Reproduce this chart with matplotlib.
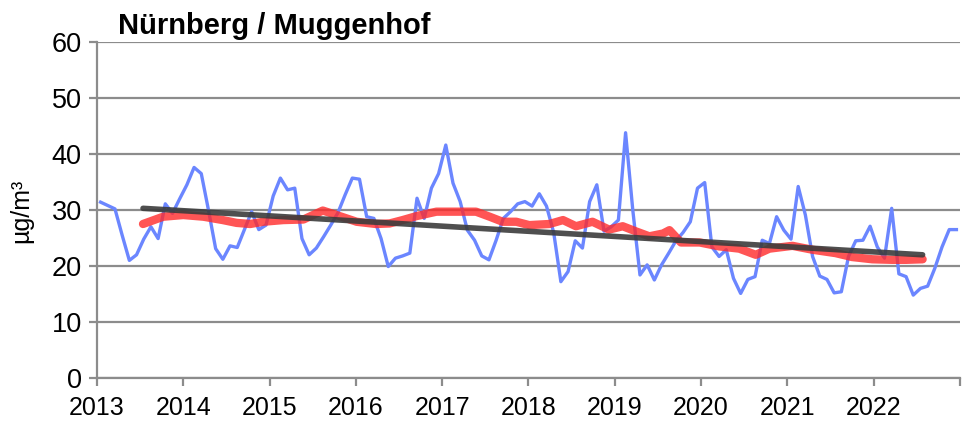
import matplotlib
matplotlib.use("Agg")
import matplotlib.pyplot as plt
import numpy as np

plt.rcParams['font.family'] = ['Liberation Sans', 'DejaVu Sans']

# monthly means Jan 2013 .. Dec 2022 (µg/m³)
monthly = [31.4, 30.8, 30.2, 25.5, 21.0, 22.0, 24.8, 27.0, 24.9, 31.1, 29.4, 32.0,
           34.5, 37.6, 36.5, 30.0, 23.1, 21.2, 23.6, 23.3, 26.5, 29.7, 26.5, 27.3,
           32.5, 35.7, 33.6, 33.9, 24.9, 22.0, 23.2, 25.2, 27.3, 29.5, 32.7, 35.7,
           35.5, 28.8, 28.5, 24.9, 19.9, 21.4, 21.8, 22.3, 32.1, 28.5, 33.9, 36.5,
           41.6, 34.8, 31.5, 26.4, 24.6, 21.8, 21.1, 24.6, 28.5, 29.7, 31.1, 31.5,
           30.7, 32.9, 30.7, 26.0, 17.2, 19.0, 24.5, 23.2, 31.5, 34.5, 26.2, 27.0,
           28.2, 43.8, 30.0, 18.4, 20.2, 17.5, 20.2, 22.3, 24.5, 26.0, 27.9, 33.9,
           34.9, 23.4, 21.7, 22.9, 17.8, 15.1, 17.6, 18.1, 24.6, 24.0, 28.8, 26.4,
           24.8, 34.2, 29.1, 21.7, 18.2, 17.6, 15.2, 15.4, 21.7, 24.5, 24.6, 27.1,
           23.4, 21.4, 30.3, 18.6, 18.1, 14.8, 16.0, 16.4, 19.6, 23.4, 26.5, 26.5]

# running mean (month index, value)
mean_month = [5.9, 8.7, 11.5, 14.3, 17.0, 18.9, 20.8, 22.6, 25.4, 28.2, 30.9, 32.8,
              35.6, 38.3, 40.2, 42.0, 43.9, 46.7, 49.5, 52.2, 54.1, 55.9, 57.8, 59.6,
              62.4, 64.3, 66.1, 68.4, 70.7, 72.6, 74.4, 76.3, 78.2, 79.1, 80.7, 83.3,
              86.0, 88.8, 91.1, 93.0, 96.2, 99.0, 102.2, 104.5, 107.3, 110.1, 112.0, 114.3]
mean_val = [27.5, 28.8, 29.1, 28.8, 28.2, 27.7, 27.5, 27.9, 28.2, 28.3, 29.9, 29.1,
            27.9, 27.5, 27.6, 28.2, 28.9, 29.7, 29.7, 29.7, 28.8, 27.9, 27.9, 27.3,
            27.5, 28.2, 27.1, 27.9, 26.5, 27.1, 26.2, 25.3, 25.8, 26.4, 24.2, 24.2,
            23.5, 23.1, 22.0, 23.1, 23.6, 22.9, 22.3, 21.6, 21.2, 21.1, 21.1, 21.2]

# linear trend end points
trend_month = [5.9, 114.3]
trend_val = [30.3, 22.0]

years = list(range(2013, 2024))
year_labels = [str(y) for y in range(2013, 2023)] + ['']

x_month = 2013 + (np.arange(len(monthly)) + 0.5) / 12
x_mean = 2013 + (np.array(mean_month) + 0.5) / 12
x_trend = 2013 + (np.array(trend_month) + 0.5) / 12

fig = plt.figure(figsize=(9.66, 4.26), dpi=100)
ax = fig.add_axes([0.1004, 0.1127, 0.8934, 0.7887])

grid_c = '#8c8c8c'
ax.plot(x_month, monthly, color='#6b86ff', lw=2.4, zorder=3, solid_joinstyle='round')
ax.plot(x_mean, mean_val, color='#ff2a2a', lw=6.0, alpha=0.8, zorder=4,
        solid_capstyle='round', solid_joinstyle='round')
ax.plot(x_trend, trend_val, color='#3c3c3c', lw=4.0, alpha=0.9, zorder=5,
        solid_capstyle='round')

ax.set_xlim(2013, 2023)
ax.set_ylim(0, 60)
ax.set_yticks(range(0, 61, 10))
ax.set_xticks(years)
ax.set_xticklabels(year_labels)
ax.yaxis.grid(True, color=grid_c, lw=1.6, zorder=1)
ax.set_axisbelow(True)

for s in ['top', 'right']:
    ax.spines[s].set_visible(False)
for s in ['left', 'bottom']:
    ax.spines[s].set_color(grid_c)
    ax.spines[s].set_linewidth(1.6)

ax.tick_params(axis='both', colors=grid_c, labelcolor='black',
               length=6, width=1.6)
ax.tick_params(axis='x', pad=7, labelsize=18)
ax.tick_params(axis='y', pad=5, labelsize=19.5)

fig.text(21 / 966, 1 - 211 / 426, 'µg/m³', rotation=90, ha='center', va='center',
         fontsize=18)
fig.text(118 / 966, 1 - 34 / 426, 'Nürnberg / Muggenhof', ha='left', va='baseline',
         fontsize=21, fontweight='bold')

fig.savefig('out.png', dpi=100)
